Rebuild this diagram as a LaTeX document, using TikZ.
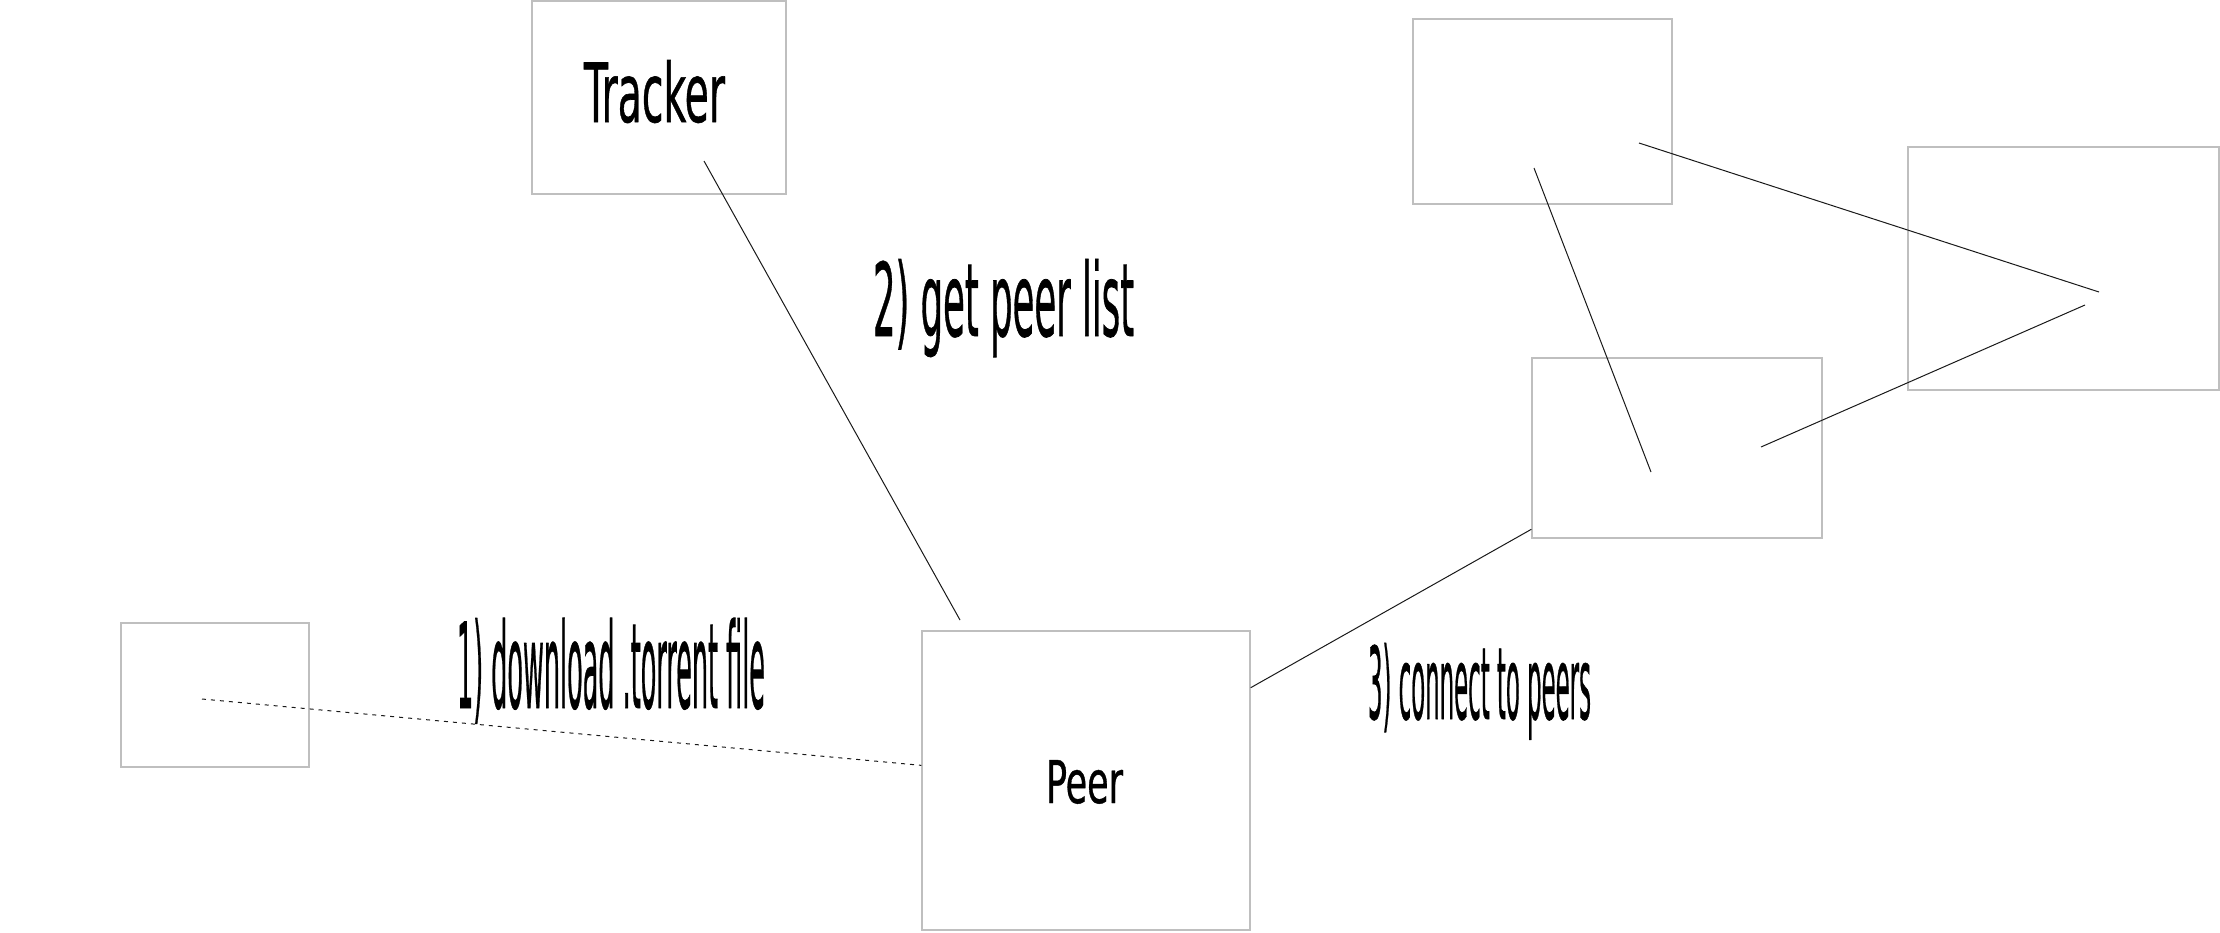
\documentclass[tikz,border=0pt]{standalone}
\usepackage{fontspec}
\setmainfont{DejaVu Sans Condensed}[FakeBold=0.8]
\usepackage{graphicx}

\begin{document}
\begin{tikzpicture}[x=1pt,y=-1pt,
  box/.style={draw=black!25, line width=1.3pt, inner sep=0pt},
  link/.style={draw=black!90, line width=1pt},
  txt/.style={anchor=base west, inner sep=0pt, outer sep=0pt}]
 \useasboundingbox (0,0) rectangle (2220,932);
 \node[box, minimum width=254pt, minimum height=193pt] (tracker) at (659,97.5) {};
 \node[box, minimum width=188pt, minimum height=144pt] (src) at (215,695) {};
 \node[box, minimum width=328pt, minimum height=299pt] (peer) at (1086,780.5) {};
 \node[box, minimum width=259pt, minimum height=185pt] (p1) at (1542.5,111.5) {};
 \node[box, minimum width=290pt, minimum height=180pt] (p2) at (1677,448) {};
 \node[box, minimum width=311pt, minimum height=243pt] (p3) at (2063.5,268.5) {};

 \node[txt] (trackerlbl) at (584,122) {\resizebox{141pt}{62pt}{Tracker}};
 \node[txt] (peerlbl) at (1046,803) {\resizebox{77pt}{43pt}{Peer}};
 \node[txt] (step1) at (457,708) {\resizebox{308pt}{90pt}{1) download .torrent file}};
 \node[txt] (step2) at (873,336) {\resizebox{261pt}{77pt}{2) get peer list}};
 \node[txt] (step3) at (1368,719) {\resizebox{223pt}{76pt}{3) connect to peers}};

 \coordinate (src-a) at (202,699);
 \coordinate (trk-a) at (704,161);
 \coordinate (peer-a) at (960,620);
 \coordinate (p1-a) at (1534,168);
 \coordinate (p1-b) at (1639,143);
 \coordinate (p2-a) at (1651,472);
 \coordinate (p2-b) at (1761,447);
 \coordinate (p3-a) at (2099,292);
 \coordinate (p3-b) at (2085,305);

 \draw[link, dash pattern=on 4pt off 5pt] (src-a) -- (peer);
 \draw[link] (trk-a) -- (peer-a);
 \draw[link] (peer) -- (p2);
 \draw[link] (p1-a) -- (p2-a);
 \draw[link] (p1-b) -- (p3-a);
 \draw[link] (p2-b) -- (p3-b);
\end{tikzpicture}
\end{document}
